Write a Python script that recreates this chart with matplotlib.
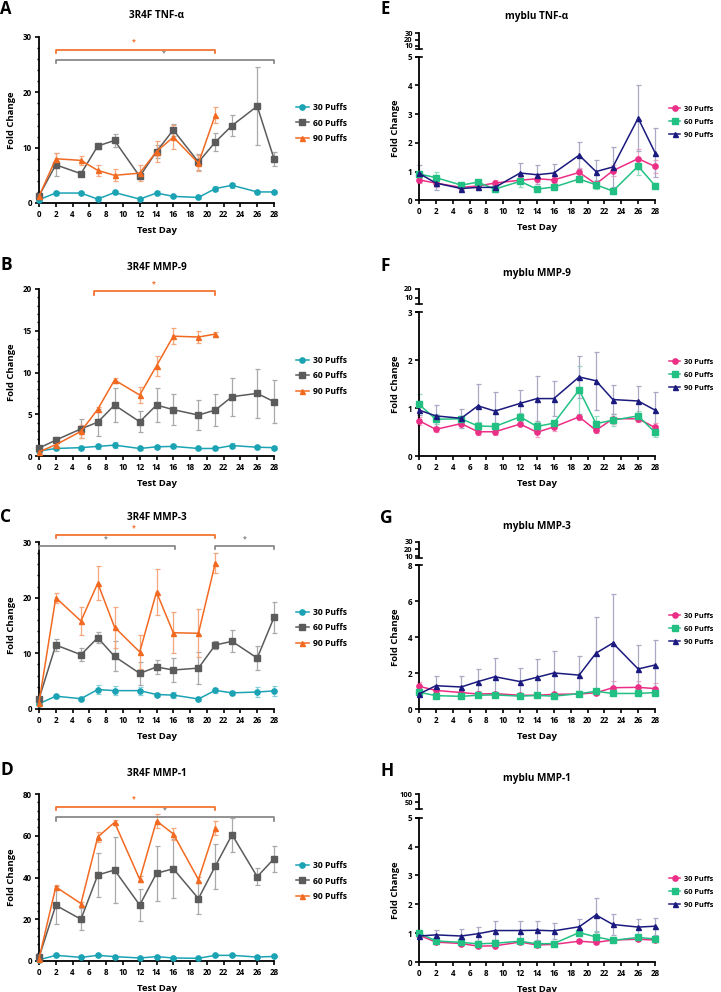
import matplotlib.pyplot as plt
from matplotlib.ticker import MultipleLocator

plt.rcParams['font.family'] = ['Open Sans', 'DejaVu Sans']
plt.rcParams['font.weight'] = 'bold'

days = [0, 2, 5, 7, 9, 12, 14, 16, 19, 21, 23, 26, 28]
days90 = days[:10]
labels = ['30 Puffs', '60 Puffs', '90 Puffs']
xticks = list(range(0, 29, 2))

# 3R4F panels
a30 = [0.6, 1.8, 1.8, 0.7, 1.9, 0.7, 1.8, 1.2, 1.0, 2.6, 3.2, 2.0, 2.0]
a30e = [0.2, 0.3, 0.2, 0.5, 0.3, 0.2, 0.4, 0.2, 0.2, 0.5, 0.4, 0.2, 0.2]
a60 = [1.3, 6.9, 5.3, 10.3, 11.3, 4.8, 9.3, 13.2, 7.4, 11.0, 14.0, 17.5, 8.0]
a60e = [0.3, 2.1, 0.3, 0.6, 1.2, 0.3, 1.2, 1.1, 1.5, 1.6, 1.9, 7.0, 1.3]
a90 = [1.2, 8.0, 7.7, 5.9, 5.0, 5.4, 9.3, 11.9, 7.2, 15.9]
a90e = [0.3, 1.0, 0.8, 1.0, 1.1, 1.5, 1.9, 2.2, 1.5, 1.4]

b30 = [0.6, 0.9, 1.0, 1.15, 1.3, 0.9, 1.1, 1.15, 0.9, 0.9, 1.25, 1.05, 1.0]
b30e = [0.1, 0.15, 0.2, 0.3, 0.35, 0.15, 0.2, 0.25, 0.1, 0.15, 0.3, 0.2, 0.2]
b60 = [0.95, 1.9, 3.25, 4.05, 6.1, 4.1, 6.1, 5.55, 4.9, 5.5, 7.1, 7.5, 6.5]
b60e = [0.1, 0.4, 1.15, 1.6, 2.0, 1.25, 2.0, 1.85, 1.8, 1.9, 2.3, 2.95, 2.6]
b90 = [0.5, 1.35, 2.95, 5.6, 9.1, 7.3, 10.8, 14.35, 14.25, 14.6]
b90e = [0.1, 0.2, 0.75, 0.3, 0.3, 1.0, 1.2, 0.95, 0.75, 0.3]

c30 = [0.95, 2.3, 1.85, 3.5, 3.3, 3.3, 2.6, 2.5, 1.8, 3.35, 2.9, 3.05, 3.25]
c30e = [0.2, 0.3, 0.3, 0.8, 0.8, 0.7, 0.3, 0.6, 0.3, 0.5, 0.4, 0.9, 0.9]
c60 = [1.8, 11.5, 9.75, 12.8, 9.45, 6.4, 7.55, 7.0, 7.35, 11.5, 12.15, 9.15, 16.45]
c60e = [0.3, 1.0, 1.2, 1.0, 2.7, 2.0, 1.3, 2.2, 2.8, 0.8, 2.0, 2.1, 2.8]
c90 = [1.15, 20.0, 15.8, 22.6, 14.7, 10.25, 21.0, 13.7, 13.6, 26.2]
c90e = [0.3, 0.9, 2.5, 3.05, 3.7, 3.0, 4.1, 3.7, 4.3, 1.8]

d30 = [0.6, 2.7, 1.75, 2.7, 2.1, 1.45, 2.1, 1.45, 1.3, 2.7, 2.7, 1.9, 2.2]
d30e = [0.3, 0.5, 0.5, 0.5, 0.4, 0.4, 0.5, 0.4, 0.3, 0.5, 0.5, 0.4, 0.4]
d60 = [1.75, 26.7, 20.0, 41.2, 43.6, 26.8, 42.0, 44.2, 29.9, 45.4, 60.5, 40.4, 49.0]
d60e = [0.5, 9.0, 5.2, 10.4, 15.8, 7.8, 13.2, 14.1, 7.6, 10.7, 8.1, 4.1, 6.3]
d90 = [1.1, 35.5, 27.5, 59.4, 66.4, 39.1, 67.1, 60.9, 39.0, 63.7]
d90e = [0.5, 1.0, 1.0, 2.4, 1.2, 1.4, 3.4, 2.9, 1.3, 3.3]

# myblu panels
e30 = [0.71, 0.6, 0.45, 0.5, 0.6, 0.7, 0.75, 0.71, 0.97, 0.57, 1.03, 1.45, 1.18]
e30e = [0.12, 0.15, 0.08, 0.1, 0.12, 0.1, 0.12, 0.1, 0.15, 0.1, 0.2, 0.35, 0.22]
e60 = [0.92, 0.79, 0.53, 0.63, 0.39, 0.66, 0.39, 0.46, 0.74, 0.54, 0.32, 1.19, 0.51]
e60e = [0.1, 0.2, 0.05, 0.05, 0.1, 0.2, 0.05, 0.05, 0.08, 0.15, 0.1, 0.3, 0.08]
e90 = [0.94, 0.6, 0.41, 0.45, 0.45, 0.95, 0.89, 0.95, 1.57, 1.0, 1.16, 2.86, 1.66]
e90e = [0.3, 0.25, 0.05, 0.1, 0.1, 0.35, 0.33, 0.31, 0.47, 0.39, 0.68, 1.15, 0.85]

f30 = [0.74, 0.56, 0.68, 0.51, 0.51, 0.67, 0.5, 0.61, 0.82, 0.54, 0.78, 0.78, 0.6]
f30e = [0.08, 0.05, 0.06, 0.06, 0.06, 0.05, 0.1, 0.08, 0.06, 0.05, 0.1, 0.06, 0.1]
f60 = [1.08, 0.77, 0.78, 0.63, 0.62, 0.82, 0.62, 0.69, 1.38, 0.68, 0.75, 0.84, 0.5]
f60e = [0.22, 0.1, 0.05, 0.08, 0.05, 0.08, 0.1, 0.05, 0.5, 0.15, 0.12, 0.1, 0.1]
f90 = [0.96, 0.84, 0.79, 1.05, 0.94, 1.1, 1.2, 1.2, 1.65, 1.57, 1.18, 1.15, 0.96]
f90e = [0.1, 0.23, 0.2, 0.45, 0.39, 0.27, 0.47, 0.36, 0.43, 0.6, 0.3, 0.31, 0.37]

g30 = [1.28, 1.05, 0.93, 0.85, 0.87, 0.78, 0.78, 0.83, 0.85, 0.92, 1.2, 1.22, 1.15]
g30e = [0.22, 0.1, 0.08, 0.15, 0.1, 0.05, 0.08, 0.08, 0.08, 0.1, 0.35, 0.35, 0.3]
g60 = [0.95, 0.76, 0.72, 0.78, 0.8, 0.73, 0.77, 0.73, 0.87, 1.0, 0.88, 0.88, 0.93]
g60e = [0.1, 0.05, 0.05, 0.05, 0.05, 0.05, 0.05, 0.05, 0.1, 0.1, 0.05, 0.05, 0.05]
g90 = [0.85, 1.31, 1.24, 1.54, 1.81, 1.54, 1.78, 2.02, 1.9, 3.12, 3.68, 2.24, 2.46]
g90e = [0.1, 0.56, 0.6, 0.7, 1.05, 0.77, 1.0, 1.23, 1.08, 2.03, 2.72, 1.36, 1.37]

h30 = [0.93, 0.69, 0.64, 0.55, 0.56, 0.69, 0.59, 0.61, 0.72, 0.68, 0.76, 0.79, 0.76]
h30e = [0.05, 0.04, 0.04, 0.04, 0.04, 0.04, 0.04, 0.04, 0.04, 0.04, 0.04, 0.04, 0.04]
h60 = [1.0, 0.73, 0.68, 0.63, 0.65, 0.72, 0.63, 0.64, 1.02, 0.87, 0.75, 0.85, 0.8]
h60e = [0.08, 0.05, 0.05, 0.1, 0.12, 0.05, 0.05, 0.05, 0.08, 0.2, 0.05, 0.05, 0.08]
h90 = [0.9, 0.94, 0.9, 0.98, 1.09, 1.09, 1.1, 1.08, 1.22, 1.63, 1.3, 1.21, 1.24]
h90e = [0.05, 0.17, 0.23, 0.25, 0.32, 0.32, 0.33, 0.28, 0.28, 0.6, 0.35, 0.28, 0.3]

left_cols = ['#1ba3b4', '#5b5b5b', '#f26a21']
left_ecols = ['#86d0d9', '#a9a9a9', '#f6a77c']
right_cols = ['#ec2f86', '#22c083', '#1b1a7e']
right_ecols = ['#f3a3c8', '#93dcbf', '#a9a9c6']
markers = ['o', 's', '^']
msizes = [3.8, 4.3, 3.6]

W, H = 721, 992
fig = plt.figure(figsize=(W / 100, H / 100), dpi=100)


def box(l, t, r, b):
    return [l / W, 1 - b / H, (r - l) / W, (b - t) / H]


def ftext(x, y, s, va='center', **kw):
    # place text at pixel coords measured from the top-left corner
    fig.text(x / W, 1 - y / H, s, fontweight='bold', va=va, **kw)


def style(ax):
    for s in ['top', 'right']:
        ax.spines[s].set_visible(False)
    for s in ['left', 'bottom']:
        ax.spines[s].set_linewidth(1.3)
    ax.tick_params(axis='both', which='major', length=3, width=1.2, labelsize=5.8, pad=2)
    ax.tick_params(axis='y', which='minor', length=1.8, width=1.0)


def panel(ax, series, cols, ecols, ymax, ystep, yminor, legy, legsize):
    for (x, y, e), c in zip(series, ecols):
        ax.errorbar(x, y, yerr=e, fmt='none', ecolor=c, elinewidth=0.9,
                    capsize=1.8, capthick=0.9, clip_on=False, zorder=2)
    handles = []
    for (x, y, e), c, m, ms, lab in zip(series, cols, markers, msizes, labels):
        h, = ax.plot(x, y, color=c, marker=m, ms=ms, lw=1.1, clip_on=False,
                     zorder=3, label=lab)
        handles.append(h)
    ax.set_xlim(0, 28)
    ax.set_ylim(0, ymax)
    ax.set_xticks(xticks)
    ax.yaxis.set_major_locator(MultipleLocator(ystep))
    if yminor:
        ax.yaxis.set_minor_locator(MultipleLocator(yminor))
    style(ax)
    ax.set_xlabel('Test Day', fontsize=6.8, fontweight='bold', labelpad=5)
    ax.set_ylabel('Fold Change', fontsize=6.8, fontweight='bold', labelpad=5)
    ax.legend(handles=handles, loc='center left', frameon=False, fontsize=legsize,
              handlelength=1.5, handletextpad=0.5, labelspacing=0.8, borderpad=0,
              borderaxespad=0, bbox_to_anchor=legy, bbox_transform=fig.transFigure)


def bracket(ax, x1, x2, y, drop, color, sx, sy):
    ax.plot([x1, x1, x2, x2], [y - drop, y, y, y - drop], color=color, lw=1.2,
            clip_on=False, zorder=4)
    ax.text(sx, sy, '*', color=color, fontsize=5, ha='center', va='center')


def upper(rect, lo, hi, ticks):
    ax = fig.add_axes(rect)
    ax.set_xlim(0, 28)
    ax.set_ylim(lo, hi)
    ax.set_yticks(ticks)
    ax.set_xticks([])
    for s in ['top', 'right', 'bottom']:
        ax.spines[s].set_visible(False)
    ax.spines['left'].set_linewidth(1.3)
    ax.patch.set_alpha(0)
    ax.tick_params(axis='y', length=3, width=1.2, labelsize=5.4, pad=1.5)
    ax.plot([-0.35, 0.35], [lo, lo], color='black', lw=1.2, clip_on=False)
    return ax


# ---- left column: 3R4F ----
left = [
    ('3R4F TNF-\u03b1', 'A', (37, 203), 15, 6, 30, 10, 2,
     [(days, a30, a30e), (days, a60, a60e), (days90, a90, a90e)], 123),
    ('3R4F MMP-9', 'B', (289, 456), 268, 265, 20, 5, 1,
     [(days, b30, b30e), (days, b60, b60e), (days90, b90, b90e)], 376),
    ('3R4F MMP-3', 'C', (542, 709), 518, 517, 30, 10, 2,
     [(days, c30, c30e), (days, c60, c60e), (days90, c90, c90e)], 628),
    ('3R4F MMP-1', 'D', (794, 961), 773, 770, 80, 20, 4,
     [(days, d30, d30e), (days, d60, d60e), (days90, d90, d90e)], 881),
]
laxes = []
for title, letter, (t, b), ty, ly_letter, ymax, ystep, ymin, series, ly in left:
    ax = fig.add_axes(box(39, t, 274, b))
    panel(ax, series, left_cols, left_ecols, ymax, ystep, ymin, (296 / W, 1 - ly / H), 6.2)
    ftext(156.5, ty, title, fontsize=7.2, ha='center')
    if ly_letter < 20:
        ftext(0, 0.5, letter, va='top', fontsize=12, ha='left')
    else:
        ftext(0, ly_letter, letter, fontsize=12.5, ha='left')
    laxes.append(ax)

orange, grey = '#f26a21', '#808080'
bracket(laxes[0], 2, 21, 27.7, 0.6, orange, 11.3, 29.1)
bracket(laxes[0], 2, 28, 25.9, 0.6, grey, 14.9, 27.1)
bracket(laxes[1], 6.5, 21, 19.75, 0.5, orange, 13.7, 20.6)
bracket(laxes[2], 2, 21, 31.3, 0.6, orange, 11.3, 32.5)
bracket(laxes[2], 0, 16.2, 29.3, 0.6, grey, 8.0, 30.6)
bracket(laxes[2], 21, 28, 29.3, 0.6, grey, 24.5, 30.6)
bracket(laxes[3], 2, 21, 74.0, 1.6, orange, 11.3, 77.8)
bracket(laxes[3], 2, 28, 68.8, 1.6, grey, 15.0, 72.4)

# ---- right column: myblu ----
right = [
    ('myblu TNF-\u03b1', 'E', (56.7, 200.3), 17, 7, 5, 1, (33.3, 49), (5, 30), [10, 20, 30],
     [(days, e30, e30e), (days, e60, e60e), (days, e90, e90e)], 122),
    ('myblu MMP-9', 'F', (312, 456.3), 274, 266, 3, 1, (288.7, 304.5), (3, 20), [10, 20],
     [(days, f30, f30e), (days, f60, f60e), (days, f90, f90e)], 375),
    ('myblu MMP-3', 'G', (565.3, 709.3), 527, 518, 8, 2, (542, 557.7), (8, 30), [10, 20, 30],
     [(days, g30, g30e), (days, g60, g60e), (days, g90, g90e)], 629),
    ('myblu MMP-1', 'H', (817.7, 962), 778, 771, 5, 1, (794.3, 809), (5, 100), [50, 100],
     [(days, h30, h30e), (days, h60, h60e), (days, h90, h90e)], 892),
]
for title, letter, (t, b), ty, ly_letter, ymax, ystep, (ut, ub), (lo, hi), uticks, series, ly in right:
    ax = fig.add_axes(box(419, t, 655, b))
    panel(ax, series, right_cols, right_ecols, ymax, ystep, None, (669 / W, 1 - ly / H), 5.3)
    ax.plot([-0.35, 0.35], [ymax, ymax], color='black', lw=1.2, clip_on=False)
    upper(box(419, ut, 655, ub), lo, hi, uticks)
    ftext(537, ty, title, fontsize=7.2, ha='center')
    if ly_letter < 20:
        ftext(380, 0.5, letter, va='top', fontsize=12, ha='left')
    else:
        ftext(380, ly_letter, letter, fontsize=12.5, ha='left')

fig.savefig('out.png', dpi=100)
